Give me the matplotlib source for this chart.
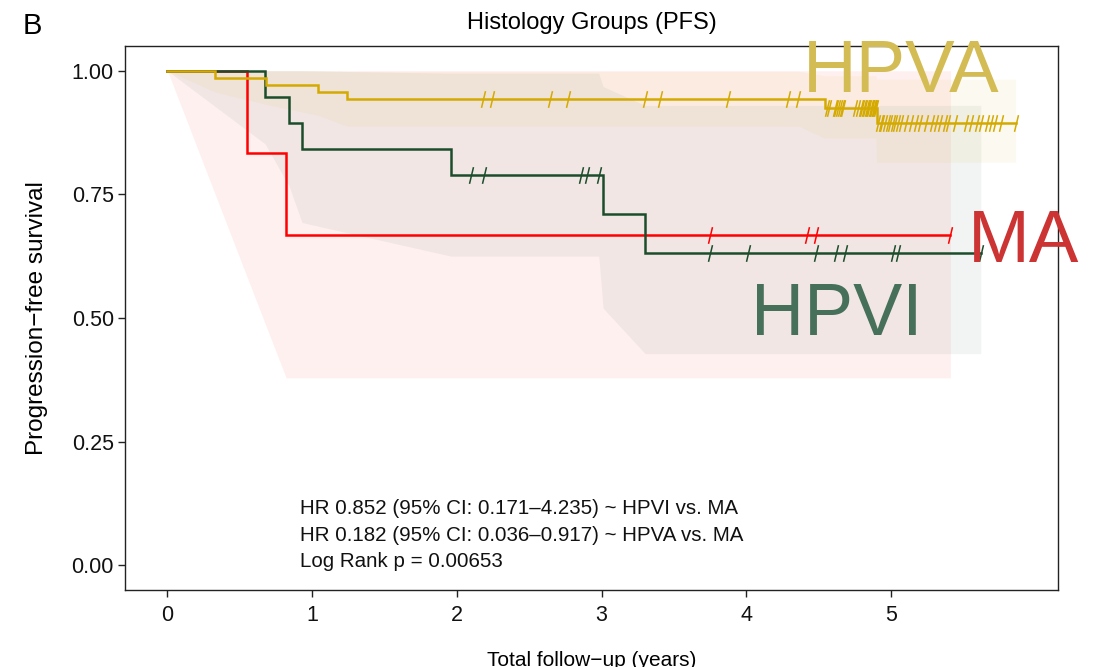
import matplotlib
matplotlib.use("Agg")
import matplotlib.pyplot as plt
from matplotlib.path import Path

plt.rcParams['font.family'] = ['Liberation Sans', 'DejaVu Sans']

# Kaplan-Meier step curves (time in years, survival probability)
ma_time = [0, 0.55, 0.82, 5.41]
ma_surv = [1.0, 0.833, 0.667, 0.667]
ma_censor = [3.75, 4.42, 4.48, 5.41]

hpvi_time = [0, 0.675, 0.84, 0.93, 1.96, 3.01, 3.30, 5.62]
hpvi_surv = [1.0, 0.947, 0.895, 0.842, 0.789, 0.710, 0.632, 0.632]
hpvi_censor = [2.10, 2.19, 2.86, 2.90, 2.98, 3.75, 4.01, 4.48, 4.62, 4.68,
               5.01, 5.05, 5.62]

hpva_time = [0, 0.33, 0.68, 1.04, 1.24, 4.54, 4.90, 5.86]
hpva_surv = [1.0, 0.986, 0.971, 0.957, 0.942, 0.925, 0.895, 0.895]
hpva_censor = [2.18, 2.24, 2.64, 2.77, 3.30, 3.40, 3.87, 4.29, 4.36,
               4.56, 4.57, 4.61, 4.62, 4.63, 4.65, 4.66, 4.67, 4.75, 4.77,
               4.79, 4.80, 4.81, 4.82, 4.83, 4.84, 4.85, 4.86, 4.865, 4.87,
               4.88, 4.885, 4.89, 4.895,
               4.91, 4.93, 4.94, 4.96, 4.98, 4.99, 5.01, 5.03, 5.05, 5.07,
               5.10, 5.14, 5.17, 5.20, 5.24, 5.28, 5.31, 5.34, 5.37, 5.39,
               5.44, 5.52, 5.55, 5.59, 5.62, 5.66, 5.69, 5.72, 5.76, 5.86]

# 95% confidence bands
ma_ci_time = [0, 0.55, 0.82, 5.41]
ma_ci_lo = [1.0, 0.583, 0.379, 0.379]
ma_ci_hi = [1.0, 1.0, 1.0, 1.0]

hpvi_ci_time = [0, 0.675, 0.84, 0.93, 1.96, 2.98, 3.01, 3.30, 5.62]
hpvi_ci_lo = [1.0, 0.852, 0.767, 0.693, 0.625, 0.625, 0.520, 0.428, 0.428]
hpvi_ci_hi = [1.0, 1.0, 1.0, 1.0, 0.995, 0.995, 0.968, 0.930, 0.930]

hpva_ci_time = [0, 0.33, 0.68, 1.04, 1.24, 4.36, 4.54, 4.895, 4.90, 5.86]
hpva_ci_lo = [1.0, 0.957, 0.932, 0.910, 0.888, 0.888, 0.864, 0.864, 0.815, 0.815]
hpva_ci_hi = [1.0, 1.0, 1.0, 1.0, 0.999, 0.999, 0.990, 0.990, 0.983, 0.983]

x_ticks = [0, 1, 2, 3, 4, 5]
y_ticks = [0.00, 0.25, 0.50, 0.75, 1.00]
stats_lines = ["HR 0.852 (95% CI: 0.171\u20134.235) ~ HPVI vs. MA",
               "HR 0.182 (95% CI: 0.036\u20130.917) ~ HPVA vs. MA",
               "Log Rank p = 0.00653"]

col_ma = '#FF0000'
col_hpvi = '#1B4D2B'
col_hpva = '#D4AA00'

fig = plt.figure(figsize=(10.99, 6.67), dpi=100)
ax = fig.add_axes([125/1099, 1 - 590/667, (1058-125)/1099, (590-46)/667])

for t, lo, hi, c in [(ma_ci_time, ma_ci_lo, ma_ci_hi, col_ma),
                     (hpvi_ci_time, hpvi_ci_lo, hpvi_ci_hi, col_hpvi),
                     (hpva_ci_time, hpva_ci_lo, hpva_ci_hi, col_hpva)]:
    ax.fill_between(t, lo, hi, color=c, alpha=0.06, linewidth=0)

tick_mark = Path([(-0.24, -1.0), (0.24, 1.0)], [Path.MOVETO, Path.LINETO])

def surv_at(times, surv, x):
    val = surv[0]
    for tt, ss in zip(times, surv):
        if tt <= x:
            val = ss
    return val

for t, s, cens, c in [(ma_time, ma_surv, ma_censor, col_ma),
                      (hpvi_time, hpvi_surv, hpvi_censor, col_hpvi),
                      (hpva_time, hpva_surv, hpva_censor, col_hpva)]:
    ax.step(t, s, where='post', color=c, linewidth=1.8, solid_joinstyle='miter')
    ax.plot(cens, [surv_at(t, s, x) for x in cens], linestyle='none',
            marker=tick_mark, markersize=12, markeredgewidth=1.1,
            markeredgecolor=c, color=c)

ax.text(4.39, 0.957, "HPVA", color='#D4BC55', fontsize=53.5, ha='left',
        va='baseline')
ax.text(5.53, 0.613, "MA", color='#CC3333', fontsize=53.5, ha='left',
        va='baseline', clip_on=False)
ax.text(4.03, 0.466, "HPVI", color='#46705A', fontsize=53, ha='left',
        va='baseline')

for i, line in enumerate(stats_lines):
    ax.text(0.917, 0.115 - i * 0.054, line, fontsize=14.8, ha='left',
            va='center', color='#111111')

ax.set_xlim(-0.293, 6.153)
ax.set_ylim(-0.05, 1.05)
ax.set_xticks(x_ticks)
ax.set_xticklabels([str(v) for v in x_ticks])
ax.set_yticks(y_ticks)
ax.set_yticklabels([f"{v:.2f}" for v in y_ticks])
ax.tick_params(axis='both', direction='out', length=5, width=1.0,
               labelsize=15.5, color='#222222', labelcolor='#111111')
ax.tick_params(axis='y', pad=3)
ax.tick_params(axis='x', pad=6)
for sp in ax.spines.values():
    sp.set_linewidth(1.0)
    sp.set_color('#222222')

ax.set_title("Histology Groups (PFS)", fontsize=17, pad=12)
ax.set_ylabel("Progression\u2212free survival", fontsize=17.5, labelpad=17)
ax.set_xlabel("Total follow\u2212up (years)", fontsize=15, labelpad=18)
fig.text(23/1099, 1 - 26/667, "B", fontsize=21, ha='left', va='center')

fig.savefig("out.png", dpi=100)
